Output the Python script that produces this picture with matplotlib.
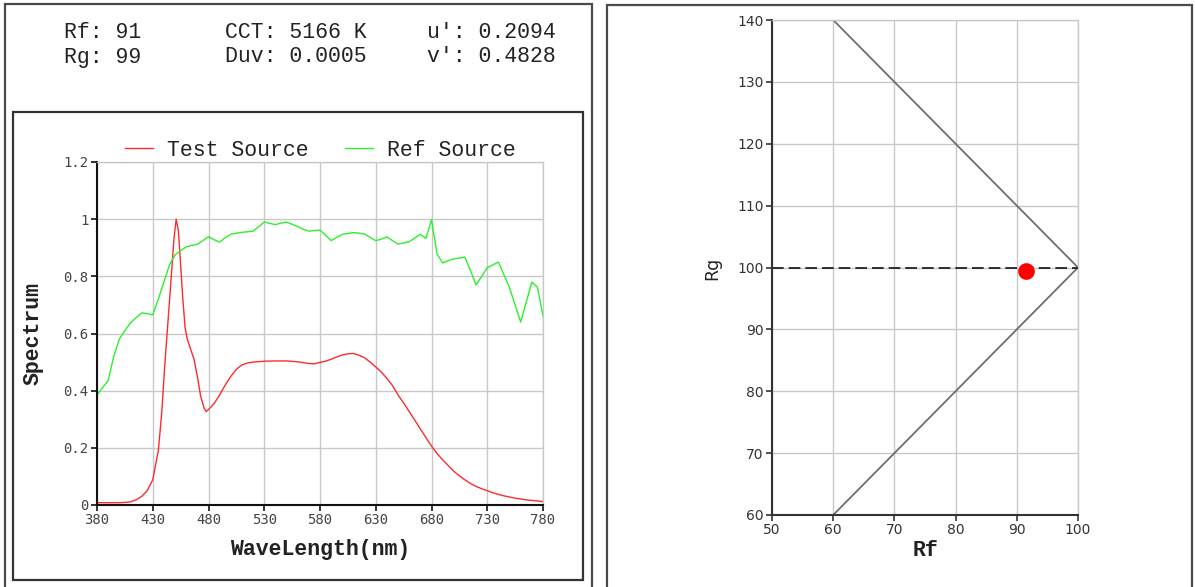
import matplotlib
matplotlib.use("Agg")
import matplotlib.pyplot as plt
from matplotlib.patches import Rectangle

# ---------------- data ----------------
ref_wl = [380, 385, 390, 395, 400, 405, 410, 415, 420, 425, 430, 435, 440, 445,
          450, 455, 460, 465, 470, 475, 480, 485, 490, 495, 500, 505, 510, 515,
          520, 525, 530, 535, 540, 545, 550, 555, 560, 565, 570, 575, 580, 585,
          590, 595, 600, 605, 610, 615, 620, 625, 630, 635, 640, 645, 650, 655,
          660, 665, 670, 675, 680, 685, 690, 695, 700, 705, 710, 715, 720, 725,
          730, 735, 740, 745, 750, 755, 760, 765, 770, 775, 780]
ref_val = [0.385, 0.41, 0.435, 0.52, 0.58, 0.61, 0.637, 0.655, 0.672, 0.670,
           0.665, 0.72, 0.78, 0.84, 0.875, 0.89, 0.903, 0.908, 0.912, 0.925,
           0.939, 0.928, 0.92, 0.935, 0.947, 0.951, 0.954, 0.956, 0.958, 0.974,
           0.99, 0.985, 0.981, 0.986, 0.99, 0.982, 0.974, 0.965, 0.958, 0.96,
           0.962, 0.944, 0.925, 0.936, 0.947, 0.95, 0.953, 0.951, 0.948, 0.936,
           0.925, 0.93, 0.938, 0.925, 0.913, 0.917, 0.921, 0.934, 0.947, 0.933,
           0.998, 0.878, 0.847, 0.855, 0.861, 0.864, 0.867, 0.82, 0.77, 0.80,
           0.83, 0.84, 0.85, 0.805, 0.76, 0.70, 0.64, 0.71, 0.78, 0.762, 0.66]

test_wl = [380, 385, 390, 395, 400, 405, 410, 415, 420, 425, 430, 435, 438, 441,
           444, 447, 449, 451, 453, 455, 457, 459, 461, 464, 467, 470, 473, 476,
           478, 481, 485, 490, 495, 500, 505, 510, 515, 520, 530, 540, 550, 560,
           570, 575, 580, 585, 590, 595, 600, 605, 610, 615, 620, 625, 630, 635,
           640, 645, 650, 655, 660, 665, 670, 675, 680, 685, 690, 695, 700, 705,
           710, 715, 720, 725, 730, 735, 740, 745, 750, 755, 760, 765, 770, 775, 780]
test_val = [0.008, 0.008, 0.008, 0.008, 0.008, 0.009, 0.011, 0.018, 0.03, 0.05,
            0.088, 0.19, 0.32, 0.50, 0.66, 0.82, 0.93, 1.0, 0.96, 0.84, 0.72,
            0.62, 0.58, 0.545, 0.51, 0.45, 0.38, 0.34, 0.327, 0.338, 0.355,
            0.385, 0.42, 0.45, 0.475, 0.49, 0.497, 0.5, 0.503, 0.504, 0.504,
            0.501, 0.495, 0.494, 0.499, 0.503, 0.51, 0.518, 0.525, 0.529, 0.53,
            0.524, 0.515, 0.5, 0.483, 0.465, 0.443, 0.418, 0.385, 0.357, 0.327,
            0.297, 0.266, 0.236, 0.206, 0.18, 0.158, 0.138, 0.118, 0.102, 0.088,
            0.075, 0.065, 0.057, 0.05, 0.043, 0.037, 0.032, 0.028, 0.024, 0.021,
            0.018, 0.016, 0.014, 0.012]

spec_xticks = [380, 430, 480, 530, 580, 630, 680, 730, 780]
spec_yticks = [0, 0.2, 0.4, 0.6, 0.8, 1.0, 1.2]
spec_ylabels = ["0", "0.2", "0.4", "0.6", "0.8", "1", "1.2"]

gamut_x = [60, 100, 60]
gamut_y = [140, 100, 60]
ref_line_x = [50, 100]
ref_line_y = [100, 100]
point_rf = [91.5]
point_rg = [99.4]
rf_ticks = [50, 60, 70, 80, 90, 100]
rg_ticks = [60, 70, 80, 90, 100, 110, 120, 130, 140]

info_rows = [["Rf: 91", "CCT: 5166 K", "u': 0.2094"],
             ["Rg: 99", "Duv: 0.0005", "v': 0.4828"]]

# ---------------- figure ----------------
W, H = 1195, 587
fig = plt.figure(figsize=(W / 100, H / 100), dpi=100)
fig.patch.set_facecolor("white")


def fx(px):
    return px / W


def fy(py):
    return 1 - py / H


def box(x0, y0, x1, y1, color, lw):
    fig.patches.append(Rectangle((fx(x0), fy(y1)), fx(x1 - x0), (y1 - y0) / H,
                                 transform=fig.transFigure, fill=False,
                                 edgecolor=color, linewidth=lw, zorder=0))


box(5, 4, 592, 600, "#4a4a4a", 1.6)
box(13, 112, 583, 580, "#333333", 1.6)
box(607, 5, 1192, 600, "#4a4a4a", 1.6)

mono = "Liberation Mono"
col_x = [64, 225, 427]
row_y = [33, 57]
for r, row in enumerate(info_rows):
    for c, txt in enumerate(row):
        fig.text(fx(col_x[c]), fy(row_y[r]), txt, family=mono, fontsize=15.5,
                 color="#222222", ha="left", va="center")

grid_c = "#c8c8c8"

# ---------------- spectrum axes ----------------
ax = fig.add_axes([fx(97), fy(505), fx(543 - 97), (505 - 162) / H])
ax.plot(test_wl, test_val, color="#ff2a2a", lw=1.0, label="Test Source")
ax.plot(ref_wl, ref_val, color="#2cf02c", lw=1.0, label="Ref Source")
ax.set_xlim(380, 780)
ax.set_ylim(0, 1.2)
ax.set_xticks(spec_xticks)
ax.set_yticks(spec_yticks)
ax.set_yticklabels(spec_ylabels)
ax.grid(True, color=grid_c, lw=1.0)
ax.set_axisbelow(True)
for s in ["top", "right"]:
    ax.spines[s].set_color(grid_c)
    ax.spines[s].set_linewidth(1.0)
for s in ["left", "bottom"]:
    ax.spines[s].set_color("#111111")
    ax.spines[s].set_linewidth(1.5)
ax.tick_params(direction="out", length=4, width=1.2, color="#111111",
               labelcolor="#444444", pad=2)
for lab in ax.get_xticklabels() + ax.get_yticklabels():
    lab.set_family("DejaVu Sans Mono")
    lab.set_fontsize(10)
ax.set_xlabel("WaveLength(nm)", family=mono, fontsize=15.5, fontweight="bold",
              color="#222222")
ax.xaxis.set_label_coords(0.5, -(549 - 505) / 343)
ax.xaxis.label.set_va("center")
ax.set_ylabel("Spectrum", family=mono, fontsize=15.5, fontweight="bold",
              color="#222222")
ax.yaxis.set_label_coords((33 - 97) / 446, 0.5)
ax.yaxis.label.set_va("center")
leg = ax.legend(loc="center", bbox_to_anchor=(0.5, 1 + 12 / 343), ncol=2,
                frameon=False, prop={"family": mono, "size": 15.5},
                handlelength=1.3, handletextpad=0.65, columnspacing=1.7,
                borderaxespad=0, borderpad=0)
for t in leg.get_texts():
    t.set_color("#222222")

# ---------------- Rf / Rg axes ----------------
ax2 = fig.add_axes([fx(772), fy(515), fx(1078 - 772), (515 - 20) / H])
ax2.plot(gamut_x, gamut_y, color="#6e6e6e", lw=1.3)
ax2.plot(ref_line_x, ref_line_y, color="#111111", lw=1.2,
         linestyle=(0, (7, 3)))
ax2.plot(point_rf, point_rg, "o", color="#ff0000", markersize=12,
         markeredgewidth=0)
ax2.set_xlim(50, 100)
ax2.set_ylim(60, 140)
ax2.set_xticks(rf_ticks)
ax2.set_yticks(rg_ticks)
ax2.grid(True, color=grid_c, lw=1.0)
ax2.set_axisbelow(True)
for s in ["top", "right"]:
    ax2.spines[s].set_color(grid_c)
    ax2.spines[s].set_linewidth(1.0)
for s in ["left", "bottom"]:
    ax2.spines[s].set_color("#333333")
    ax2.spines[s].set_linewidth(1.5)
ax2.tick_params(direction="out", length=4, width=1.2, color="#333333",
                labelcolor="#333333", labelsize=10, pad=2)
ax2.set_xlabel("Rf", family=mono, fontsize=15.5, fontweight="bold",
               color="#222222")
ax2.xaxis.set_label_coords(0.5, -(551 - 515) / 495)
ax2.xaxis.label.set_va("center")
ax2.set_ylabel("Rg", family="DejaVu Sans", fontsize=12.5, color="#222222")
ax2.yaxis.set_label_coords((712 - 772) / 306, (515 - 268) / 495)
ax2.yaxis.label.set_va("center")

fig.savefig("out.png", dpi=100)
